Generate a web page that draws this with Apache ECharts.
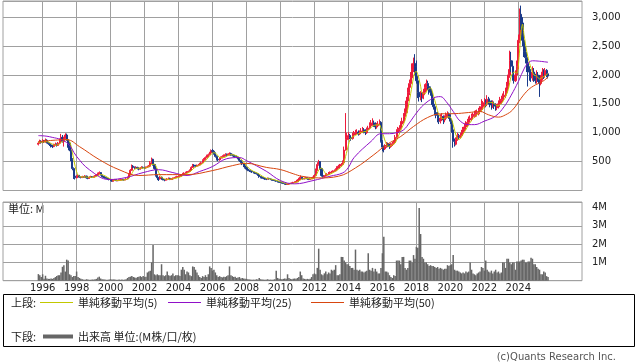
<!DOCTYPE html>
<html><head><meta charset="utf-8">
<script src="https://cdn.jsdelivr.net/npm/echarts@6/dist/echarts.min.js"></script>
<style>html,body{margin:0;padding:0;background:#fff}#c{width:638px;height:362px}</style>
</head><body><div id="c"></div><script>
// ---------- DATA ----------
const yearLabels = ['1996','1998','2000','2002','2004','2006','2008','2010','2012','2014','2016','2018','2020','2022','2024'];
const priceTicks = [500,1000,1500,2000,2500,3000];
const volumeTicks = ['1M','2M','3M','4M'];
const seriesNames = ['単純移動平均(5)','単純移動平均(25)','単純移動平均(50)','出来高 単位:(M株/口/枚)'];
const dataStart = '1995-10';
// monthly [open, close, low, high], from 1995-10
const ohlc = [
[800,820,780,850],[820,850,810,880],[850,830,815,870],
[830,860,820,890],[860,840,825,875],[840,870,830,900],[870,830,815,885],[830,810,790,845],[810,790,770,825],[790,770,745,800],[770,760,735,785],[760,790,750,810],[790,800,775,830],[800,780,760,815],[780,820,770,840],
[820,860,800,900],[860,920,850,980],[920,850,830,960],[850,900,760,930],[900,960,880,990],[960,880,860,985],[880,820,740,900],[820,700,680,840],[700,530,510,720],[530,380,350,560],[380,250,200,400],[250,220,190,270],
[220,240,210,265],[240,260,230,280],[260,230,220,270],[230,225,210,245],[225,240,215,255],[240,230,220,250],[230,250,225,265],[250,220,205,255],[220,210,195,230],[210,230,200,245],[230,240,225,255],[240,230,220,250],
[230,240,220,255],[240,250,230,265],[250,270,245,285],[270,290,260,310],[290,310,280,330],[310,270,260,320],[270,240,230,280],[240,230,215,250],[230,220,205,240],[220,210,195,230],[210,200,185,220],[200,190,175,210],
[190,175,160,200],[175,160,150,185],[160,180,155,195],[180,185,170,200],[185,170,160,195],[170,175,160,185],[175,180,168,192],[180,185,172,195],[185,190,178,205],[190,180,170,198],[180,190,175,200],[190,200,185,215],
[200,220,195,240],[220,280,215,300],[280,350,270,370],[350,420,340,450],[420,400,385,440],[400,390,375,415],[390,400,380,420],[400,380,365,410],[380,370,350,395],[370,390,360,405],[390,400,380,420],[400,395,380,415],
[395,390,375,410],[390,400,380,415],[400,410,390,430],[410,420,400,440],[420,480,410,510],[480,540,460,570],[540,450,430,550],[450,380,360,460],[380,260,240,390],[260,220,180,275],[220,200,165,235],[200,230,190,250],
[230,200,185,240],[200,190,175,210],[190,180,160,200],[180,185,170,200],[185,200,180,215],[200,210,190,225],[210,190,180,220],[190,200,185,215],[200,210,192,225],[210,220,200,235],[220,230,210,245],[230,240,220,255],
[240,240,225,260],[240,250,230,265],[250,270,240,285],[270,290,260,305],[290,300,275,315],[300,310,290,325],[310,320,300,335],[320,330,310,345],[330,350,320,365],[350,400,340,420],[400,440,390,460],[440,430,415,455],
[430,420,405,445],[420,430,410,450],[430,440,420,460],[440,460,430,480],[460,480,450,500],[480,520,470,540],[520,540,505,560],[540,570,530,590],[570,600,555,620],[600,620,580,640],[620,650,605,670],[650,690,640,710],
[690,680,650,720],[680,640,620,700],[640,590,570,660],[590,540,520,610],[540,530,505,560],[530,560,515,575],[560,570,545,590],[570,590,555,610],[590,600,575,625],[600,620,590,645],[620,610,590,640],[610,620,595,640],
[620,640,605,660],[640,620,600,655],[620,610,590,635],[610,600,580,625],[600,590,570,615],[590,580,560,605],[580,560,540,595],[560,520,495,570],[520,490,470,530],[490,460,440,500],[460,430,405,470],[430,400,380,440],
[400,370,350,410],[370,350,335,385],[350,340,320,360],[340,330,315,350],[330,320,305,340],[320,310,295,330],[310,300,285,320],[300,290,275,310],[290,270,255,300],[270,240,220,280],[240,230,210,250],[230,220,205,240],
[220,210,195,230],[210,200,185,220],[200,195,180,210],[195,210,190,225],[210,200,190,220],[200,190,180,210],[190,180,170,198],[180,175,165,190],[175,170,160,185],[170,160,150,178],[160,150,140,168],[150,145,135,160],
[145,140,130,155],[140,130,120,148],[130,120,112,138],[120,110,102,128],[110,105,98,118],[105,110,100,120],[110,120,105,130],[120,125,115,135],[125,130,120,140],[130,140,125,150],[140,145,132,158],[145,150,138,165],
[150,180,145,195],[180,200,170,220],[200,230,180,260],[230,210,200,240],[210,200,190,220],[200,210,195,225],[210,220,200,235],[220,200,185,225],[200,190,180,210],[190,200,185,215],[200,210,195,225],[210,220,205,240],
[220,260,215,280],[260,350,255,380],[350,450,340,490],[450,500,430,530],[500,380,360,510],[380,260,240,390],[260,240,225,270],[240,250,230,265],[250,270,240,290],[270,280,260,300],[280,300,270,320],[300,310,290,330],
[310,320,300,340],[320,330,310,350],[330,340,320,365],[340,360,330,385],[360,390,350,420],[390,420,380,445],[420,440,405,460],[440,450,425,475],[450,480,440,520],[480,700,470,760],[700,880,690,1340],[880,920,840,1000],
[920,950,880,1010],[950,920,890,980],[920,900,860,950],[900,960,880,1000],[960,990,940,1030],[990,1000,960,1050],[1000,1010,970,1060],[1010,980,950,1040],[980,1000,960,1040],[1000,1030,980,1080],[1030,1050,1000,1100],[1050,1020,990,1080],
[1020,1000,960,1060],[1000,1050,980,1090],[1050,1080,1030,1120],[1080,1120,1060,1180],[1120,1150,1100,1220],[1150,1170,1120,1250],[1170,1140,1100,1210],[1140,1100,1060,1180],[1100,1120,1070,1170],[1120,1150,1100,1200],[1150,1180,1130,1230],[1180,850,830,1200],
[850,750,680,870],[750,720,660,780],[720,760,700,800],[760,800,740,840],[800,780,750,830],[780,760,720,810],[760,790,740,820],[790,810,770,840],[810,830,790,870],[830,920,820,960],[920,1000,900,1060],[1000,1060,980,1100],
[1060,1080,1020,1130],[1080,1150,1050,1200],[1150,1200,1100,1260],[1200,1280,1160,1340],[1280,1350,1240,1420],[1350,1550,1330,1620],[1550,1700,1500,1780],[1700,1850,1650,1920],[1850,1950,1780,2050],[1950,2100,1900,2200],[2100,2200,2050,2300],[2200,2150,2000,2360],
[2150,1900,1850,2250],[1900,1700,1600,1980],[1700,1620,1540,1760],[1620,1650,1560,1720],[1650,1600,1530,1700],[1600,1700,1580,1760],[1700,1780,1650,1840],[1780,1850,1720,1920],[1850,1800,1740,1900],[1800,1750,1660,1850],[1750,1700,1640,1800],[1700,1550,1480,1720],
[1550,1450,1400,1600],[1450,1350,1300,1500],[1350,1300,1250,1420],[1300,1250,1180,1360],[1250,1200,1150,1300],[1200,1250,1160,1320],[1250,1280,1200,1340],[1280,1220,1150,1300],[1220,1250,1180,1300],[1250,1300,1220,1350],[1300,1320,1260,1370],[1320,1280,1240,1350],
[1280,1200,1150,1320],[1200,1050,1000,1240],[1050,850,740,1100],[850,800,760,900],[800,880,780,920],[880,950,860,1000],[950,920,880,980],[920,950,900,1000],[950,1000,920,1050],[1000,1050,970,1100],[1050,1100,1020,1160],[1100,1150,1080,1200],
[1150,1180,1100,1240],[1180,1220,1140,1280],[1220,1250,1180,1300],[1250,1280,1200,1330],[1280,1300,1230,1350],[1300,1320,1260,1380],[1320,1330,1270,1390],[1330,1350,1280,1400],[1350,1380,1300,1430],[1380,1400,1320,1460],[1400,1450,1360,1580],[1450,1480,1400,1550],
[1480,1520,1430,1600],[1520,1500,1440,1580],[1500,1580,1460,1650],[1580,1550,1490,1620],[1550,1500,1440,1590],[1500,1480,1400,1560],[1480,1500,1430,1560],[1500,1460,1410,1540],[1460,1430,1380,1510],[1430,1450,1390,1500],[1450,1500,1420,1560],[1500,1560,1460,1620],
[1560,1580,1500,1640],[1580,1620,1530,1680],[1620,1650,1560,1720],[1650,1700,1600,1780],[1700,1800,1650,1880],[1800,2000,1760,2100],[2000,2250,1950,2420],[2250,2150,2050,2400],[2150,1950,1900,2250],[1950,1900,1850,2050],[1900,2000,1880,2080],[2000,2150,1950,2250],
[2150,2600,2100,2700],[2600,3050,2550,3150],[3050,2900,2780,3200],[2900,2600,2500,3000],[2600,2400,2310,2720],[2400,2300,2200,2500],[2300,2200,2050,2400],[2200,2050,1800,2300],[2050,2000,1900,2150],[2000,1950,1880,2100],[1950,2050,1900,2150],[2050,1950,1880,2120],
[1950,1900,1850,2020],[1900,2000,1850,2080],[2000,1950,1880,2050],[1950,1850,1620,2000],[1850,1950,1820,2000],[1950,2050,1900,2120],[2050,2000,1930,2100],[2000,2080,1950,2120],[2080,2020,1960,2100],[2020,1980,1940,2060]
];
// monthly volume (millions), from 1995-10
const volume = [
0.36,0.3,0.2,
0.35,0.1,0.27,0.12,0.1,0.1,0.12,0.1,0.15,0.2,0.25,0.3,
0.3,0.45,0.76,0.85,0.5,1.15,1.1,0.35,0.3,0.2,0.25,0.25,
0.5,0.2,0.15,0.1,0.08,0.06,0.05,0.08,0.06,0.05,0.05,0.06,
0.06,0.08,0.1,0.18,0.22,0.12,0.08,0.07,0.06,0.05,0.05,0.06,
0.08,0.06,0.07,0.06,0.05,0.05,0.06,0.05,0.06,0.05,0.06,0.08,
0.15,0.2,0.22,0.25,0.2,0.18,0.15,0.2,0.22,0.25,0.2,0.25,
0.2,0.22,0.45,0.5,0.55,1.0,1.95,0.35,0.3,0.35,0.3,0.3,
0.9,0.3,0.25,0.3,0.5,0.3,0.25,0.3,0.4,0.25,0.3,0.3,
0.3,0.25,0.6,0.75,0.6,0.35,0.5,0.45,0.3,0.25,0.78,0.75,
0.6,0.45,0.3,0.2,0.15,0.25,0.2,0.3,0.2,0.35,0.78,0.7,
0.55,0.6,0.45,0.3,0.2,0.25,0.2,0.18,0.22,0.2,0.25,0.3,
0.78,0.3,0.25,0.2,0.22,0.15,0.18,0.2,0.12,0.15,0.12,0.1,
0.1,0.08,0.07,0.06,0.05,0.06,0.05,0.08,0.07,0.15,0.08,0.06,
0.06,0.05,0.06,0.08,0.05,0.06,0.05,0.06,0.08,0.55,0.15,0.1,
0.1,0.08,0.1,0.12,0.1,0.35,0.15,0.1,0.08,0.1,0.12,0.1,
0.15,0.2,0.5,0.3,0.12,0.1,0.08,0.1,0.08,0.1,0.2,0.35,
0.4,0.35,0.7,1.75,0.6,0.35,0.3,0.4,0.5,0.35,0.45,0.4,
0.6,0.55,0.6,0.85,0.3,0.3,0.35,1.3,1.3,1.1,1.0,0.9,
0.9,0.8,0.7,0.7,0.6,1.7,0.6,0.55,0.6,0.5,0.5,0.45,
0.5,0.55,1.5,0.6,0.55,0.7,0.5,0.65,0.5,0.4,0.4,0.7,
1.5,2.4,0.5,0.5,0.45,0.3,0.2,0.15,0.3,0.25,1.1,1.1,
1.1,0.9,1.3,1.3,0.7,0.6,0.7,1.1,1.1,1.0,1.4,1.2,
1.85,1.8,3.97,2.55,1.3,1.2,1.0,1.0,0.9,0.8,0.85,0.8,
0.8,0.75,0.7,0.75,0.65,0.7,0.65,0.6,0.65,0.65,0.85,0.8,
0.85,0.9,1.4,0.6,0.55,0.55,0.5,0.45,0.4,0.45,0.4,0.5,
0.45,0.5,1.0,0.6,0.4,0.35,0.3,0.4,0.45,0.5,0.75,0.7,
0.55,1.1,0.6,0.5,0.45,0.55,0.4,0.5,0.6,0.45,0.5,0.4,
0.45,1.0,1.0,0.7,1.2,1.2,1.0,0.9,1.0,1.0,0.6,1.05,
1.05,1.05,1.1,1.15,1.15,1.0,1.0,1.05,1.05,1.25,1.2,0.9,
0.9,0.75,0.65,0.6,0.35,0.35,0.5,0.45,0.25,0.2
];
const ma5 = [['1995-10',830],['1995-12',835],['1996-04',846],['1996-07',814],['1996-10',782],['1997-01',810],['1997-04',870],['1997-07',882],['1997-08',852],['1997-09',778],['1997-10',662],['1997-11',536],['1997-12',416],['1998-01',324],['1998-02',270],['1998-04',235],['1998-07',235],['1998-10',228],['1999-01',230],['1999-04',256],['1999-06',278],['1999-09',254],['1999-12',210],['2000-03',181],['2000-06',174],['2000-09',180],['2000-12',189],['2001-02',214],['2001-04',294],['2001-06',368],['2001-09',388],['2001-12',387],['2002-03',399],['2002-06',450],['2002-08',454],['2002-10',370],['2002-12',258],['2003-03',200],['2003-06',193],['2003-09',202],['2003-12',220],['2004-03',246],['2004-06',284],['2004-09',322],['2004-12',390],['2005-03',432],['2005-06',466],['2005-09',542],['2005-12',626],['2006-02',656],['2006-04',628],['2006-06',572],['2006-09',570],['2006-12',608],['2007-03',620],['2007-06',600],['2007-09',548],['2007-12',460],['2008-03',378],['2008-06',330],['2008-09',298],['2008-12',250],['2009-03',211],['2009-06',199],['2009-09',183],['2009-12',160],['2010-03',137],['2010-06',115],['2010-09',118],['2010-12',138],['2011-03',181],['2011-06',210],['2011-09',204],['2011-12',204],['2012-02',248],['2012-04',356],['2012-06',388],['2012-08',326],['2012-10',260],['2012-12',282],['2013-03',320],['2013-06',368],['2013-09',436],['2013-10',498],['2013-11',590],['2013-12',686],['2014-01',786],['2014-02',874],['2014-03',914],['2014-06',954],['2014-09',996],['2014-12',1016],['2015-03',1040],['2015-06',1114],['2015-09',1136],['2015-11',1138],['2015-12',1080],['2016-01',1010],['2016-02',930],['2016-03',852],['2016-05',762],['2016-08',788],['2016-10',822],['2016-12',924],['2017-03',1098],['2017-05',1212],['2017-07',1416],['2017-09',1680],['2017-11',1960],['2017-12',2050],['2018-01',2060],['2018-02',2010],['2018-03',1914],['2018-04',1804],['2018-05',1694],['2018-07',1670],['2018-09',1746],['2018-11',1776],['2019-01',1650],['2019-03',1470],['2019-05',1310],['2019-08',1240],['2019-11',1274],['2020-01',1270],['2020-03',1140],['2020-05',956],['2020-07',880],['2020-10',974],['2021-01',1096],['2021-04',1216],['2021-07',1296],['2021-10',1356],['2022-01',1446],['2022-04',1526],['2022-07',1522],['2022-10',1464],['2023-01',1504],['2023-04',1622],['2023-06',1754],['2023-08',1980],['2023-10',2050],['2023-12',2030],['2024-01',2150],['2024-02',2450],['2024-03',2750],['2024-04',2880],['2024-05',2700],['2024-06',2550],['2024-07',2400],['2024-08',2290],['2024-09',2200],['2024-10',2120],['2024-12',2000],['2025-02',1980],['2025-04',1930],['2025-06',1960],['2025-08',1986],['2025-10',2026]];
const ma25 = [['1995-10',950],['1996-06',930],['1997-06',830],['1998-01',590],['1998-10',360],['1999-12',190],['2000-12',225],['2001-12',310],['2002-11',360],['2003-09',310],['2004-07',260],['2005-04',330],['2006-01',415],['2006-11',550],['2007-08',570],['2008-01',517],['2009-03',333],['2010-01',172],['2010-11',115],['2011-12',172],['2012-12',247],['2013-09',305],['2014-01',400],['2014-05',570],['2015-05',850],['2015-12',983],['2016-06',983],['2016-11',1000],['2017-04',1050],['2017-08',1170],['2018-01',1340],['2018-06',1480],['2019-01',1600],['2019-06',1625],['2019-10',1540],['2020-03',1370],['2020-08',1200],['2021-02',1140],['2021-06',1140],['2022-01',1200],['2022-09',1290],['2023-03',1450],['2023-08',1650],['2024-01',1885],['2024-04',2050],['2024-07',2180],['2024-11',2245],['2025-03',2240],['2025-10',2220]];
const ma50 = [['1995-10',845],['1997-06',880],['1998-03',760],['1999-05',535],['2000-07',360],['2001-09',260],['2002-11',275],['2004-07',275],['2006-01',345],['2007-03',430],['2008-01',470],['2009-03',400],['2010-01',362],['2010-10',290],['2011-04',247],['2012-04',218],['2013-06',247],['2014-06',391],['2015-07',620],['2016-04',793],['2017-02',936],['2017-11',1108],['2018-09',1264],['2019-06',1327],['2020-04',1330],['2021-02',1350],['2021-10',1367],['2022-04',1310],['2022-11',1270],['2023-04',1310],['2023-09',1396],['2024-03',1598],['2024-08',1741],['2025-01',1827],['2025-06',1885],['2025-10',1960]];

// ---------- BUILD ----------
const months = [];
for (let y = 1993; y <= 2027; y++) for (let m = 1; m <= 12; m++) {
  if (y === 1993 && m < 9) continue;
  if (y === 2027 && m > 10) continue;
  months.push(y + '-' + String(m).padStart(2, '0'));
}
const s0 = months.indexOf(dataStart);
const candleData = ohlc.map((r, i) => [months[s0 + i], r[0], r[1], r[2], r[3]]);
const volData = volume.map((v, i) => [months[s0 + i], v]);
const isYearTick = (i, v) => v.endsWith('-01') && yearLabels.indexOf(v.slice(0, 4)) >= 0;

const latin = '"DejaVu Sans", Verdana, sans-serif';
const cjk = '"Noto Sans CJK JP", sans-serif';
const gridC = '#a0a0a0';
const C5 = '#c2c800', C25 = '#9010c8', C50 = '#d8460f', CV = '#666666';
const legendText = {fontFamily: cjk, fontSize: 11, color: '#222'};
const mkLegend = (name, left, top, extra) => Object.assign({
  data: [name], left: left, top: top, padding: 0, itemGap: 0, itemWidth: 33, itemHeight: 1,
  icon: 'rect', selectedMode: false, textStyle: legendText
}, extra || {});

const chart = echarts.init(document.getElementById('c'), null, {renderer: 'canvas'});
chart.setOption({
  animation: false,
  grid: [
    {left: 3, right: 56, top: 1, height: 189.5, show: true, borderColor: gridC, borderWidth: 1},
    {left: 3, right: 56, top: 202, height: 78.7, show: true, borderColor: gridC, borderWidth: 1}
  ],
  legend: [
    mkLegend(seriesNames[0], 40, 297),
    mkLegend(seriesNames[1], 168, 297),
    mkLegend(seriesNames[2], 311, 297),
    mkLegend(seriesNames[3], 43, 331, {itemWidth: 30, itemHeight: 4})
  ],
  xAxis: [
    {type: 'category', gridIndex: 0, data: months, boundaryGap: false,
     axisLine: {show: false}, axisTick: {show: false}, axisLabel: {show: false},
     splitLine: {show: true, interval: isYearTick, lineStyle: {color: gridC, width: 1}}},
    {type: 'category', gridIndex: 1, data: months, boundaryGap: false,
     axisLine: {show: false}, axisTick: {show: false},
     axisLabel: {show: true, interval: isYearTick, formatter: v => v.slice(0, 4), fontSize: 10, fontFamily: latin, color: '#222', margin: 3},
     splitLine: {show: true, interval: isYearTick, lineStyle: {color: gridC, width: 1}}}
  ],
  yAxis: [
    {type: 'value', gridIndex: 0, position: 'right', min: 0, max: 3280, interval: 500,
     axisLine: {show: false}, axisTick: {show: false},
     axisLabel: {fontSize: 10, fontFamily: latin, color: '#222', margin: 10,
       formatter: v => priceTicks.indexOf(v) >= 0 ? String(v).replace(/\B(?=(\d{3})+(?!\d))/g, ',') : ''},
     splitLine: {lineStyle: {color: gridC, width: 1}}},
    {type: 'value', gridIndex: 1, position: 'right', min: 0, max: 4.3, interval: 1,
     axisLine: {show: false}, axisTick: {show: false},
     axisLabel: {fontSize: 10, fontFamily: latin, color: '#222', margin: 10,
       formatter: v => (v >= 1 && Number.isInteger(v) && volumeTicks[v - 1]) ? volumeTicks[v - 1] : ''},
     splitLine: {lineStyle: {color: [gridC, gridC, gridC, gridC, 'rgba(0,0,0,0)', gridC], width: 1}}}
  ],
  series: [
    {type: 'candlestick', name: 'price', xAxisIndex: 0, yAxisIndex: 0, data: candleData,
     encode: {x: 0, y: [1, 2, 3, 4]}, barWidth: 1.6,
     itemStyle: {color: '#ee1c3c', color0: '#1a3a8a', borderColor: '#ee1c3c', borderColor0: '#1a3a8a', borderWidth: 1}},
    {type: 'line', name: seriesNames[0], xAxisIndex: 0, yAxisIndex: 0, data: ma5, symbol: 'none', smooth: 0.3,
     color: C5, lineStyle: {color: C5, width: 1}, z: 3},
    {type: 'line', name: seriesNames[1], xAxisIndex: 0, yAxisIndex: 0, data: ma25, symbol: 'none', smooth: 0.4,
     color: C25, lineStyle: {color: C25, width: 1}, z: 3},
    {type: 'line', name: seriesNames[2], xAxisIndex: 0, yAxisIndex: 0, data: ma50, symbol: 'none', smooth: 0.4,
     color: C50, lineStyle: {color: C50, width: 1}, z: 3},
    {type: 'bar', name: seriesNames[3], xAxisIndex: 1, yAxisIndex: 1, data: volData, barWidth: 1.5,
     color: CV, itemStyle: {color: CV}}
  ],
  graphic: [
    {type: 'text', left: 8, top: 203, style: {text: '単位: M', font: '11px ' + cjk, fill: '#222'}},
    {type: 'rect', z: -1, shape: {x: 3.5, y: 294.5, width: 631, height: 52}, style: {fill: '#fff', stroke: '#000', lineWidth: 1}},
    {type: 'text', x: 11, y: 303, style: {text: '上段:', font: '11px ' + cjk, fill: '#222', verticalAlign: 'middle'}},
    {type: 'text', x: 11, y: 337, style: {text: '下段:', font: '11px ' + cjk, fill: '#222', verticalAlign: 'middle'}},
    {type: 'text', x: 616, y: 357, style: {text: '(c)Quants Research Inc.', font: '10px ' + latin, fill: '#555', align: 'right', verticalAlign: 'middle'}}
  ]
});
</script></body></html>
